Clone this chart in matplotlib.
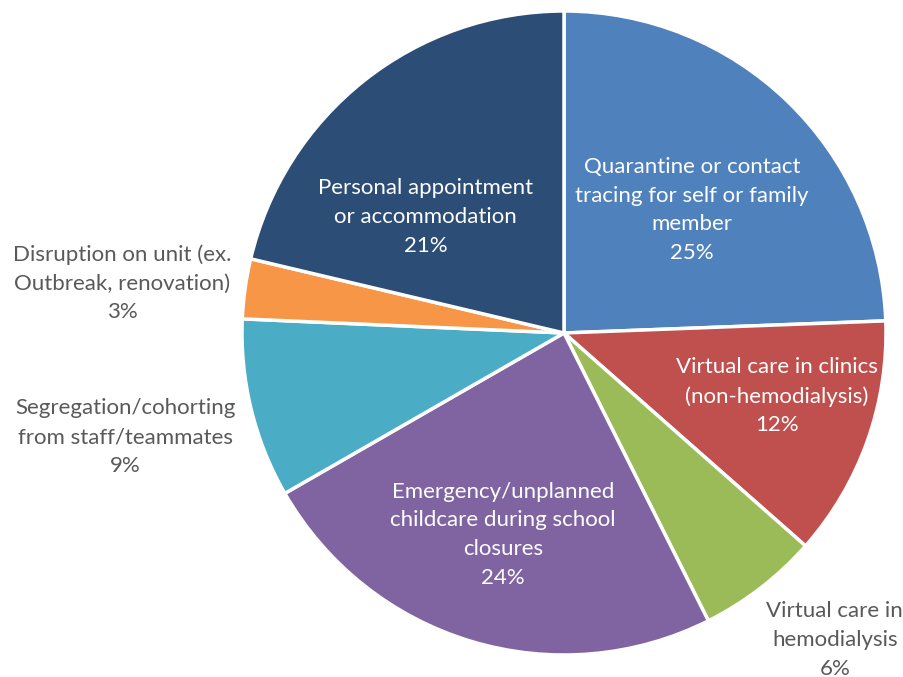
import numpy as np
import matplotlib.pyplot as plt

# slice data, clockwise from 12 o'clock
categories = [
    "Quarantine or contact\ntracing for self or family\nmember",
    "Virtual care in clinics\n(non-hemodialysis)",
    "Virtual care in\nhemodialysis",
    "Emergency/unplanned\nchildcare during school\nclosures",
    "Segregation/cohorting\nfrom staff/teammates",
    "Disruption on unit (ex.\nOutbreak, renovation)",
    "Personal appointment\nor accommodation",
]
# slice sizes (%)
shares = [24.4, 12.1, 6.1, 24.1, 9.0, 3.0, 21.3]
# percentages printed on the chart
pct_labels = [25, 12, 6, 24, 9, 3, 21]
colors = ["#4F81BD", "#C0504D", "#9BBB59", "#8064A2", "#4BACC6", "#F79646", "#2C4D75"]

# label placement (data coords, pie radius = 1) and text colour
label_pos = [(0.398, 0.382), (0.661, -0.196), (0.841, -0.953), (-0.189, -0.627),
             (-1.363, -0.323), (-1.373, 0.155), (-0.429, 0.360)]
label_col = ["white", "white", "#595959", "white", "#595959", "#595959", "white"]

plt.rcParams['font.family'] = ['Lato', 'DejaVu Sans']

W, H = 904, 677
fig = plt.figure(figsize=(W / 100, H / 100), dpi=100)
cx, cy, R = 564, 333, 322
ax = fig.add_axes([(cx - R) / W, (H - cy - R) / H, 2 * R / W, 2 * R / H])
ax.pie(shares, colors=colors, startangle=90, counterclock=False, radius=1,
       wedgeprops=dict(edgecolor="white", linewidth=2.5))
ax.set_xlim(-1, 1)
ax.set_ylim(-1, 1)
ax.set_aspect("equal")
ax.axis("off")

for cat, p, (x, y), c in zip(categories, pct_labels, label_pos, label_col):
    ax.text(x, y, f"{cat}\n{p}%", ha="center", va="center", color=c,
            fontsize=16, linespacing=1.55, clip_on=False)

fig.savefig("out.png", dpi=100)
